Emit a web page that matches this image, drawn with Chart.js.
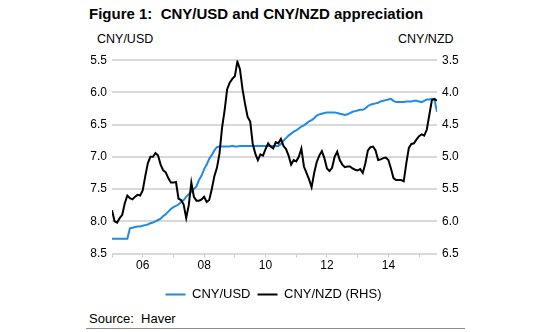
<!DOCTYPE html>
<html>
<head>
<meta charset="utf-8">
<script src="https://cdn.jsdelivr.net/npm/chart.js@4.4.1/dist/chart.umd.min.js"></script>
<style>
  body { margin:0; width:550px; height:332px; background:#fff; position:relative; overflow:hidden;
         font-family:"Liberation Sans", Arial, sans-serif; }
  .txt { position:absolute; white-space:pre; color:#000; line-height:1; }
  #wrap { position:absolute; left:0; top:48px; }
</style>
</head>
<body>
<div class="txt" style="left:89px;top:6px;font-size:15px;font-weight:bold">Figure 1:  CNY/USD and CNY/NZD appreciation</div>
<div class="txt" style="left:97px;top:33px;font-size:12.5px">CNY/USD</div>
<div class="txt" style="left:398px;top:33px;font-size:12.5px">CNY/NZD</div>
<div id="wrap"><canvas id="grafico" width="547" height="263"></canvas></div>
<div class="txt" style="left:89px;top:312px;font-size:13px">Source:  Haver</div>
<div style="position:absolute;left:86px;top:328px;width:379px;height:1px;background:#8c8c8c"></div>

<script>
// monthly, Jan 2005 .. Aug 2015
const anoInicial = 2005;

// CNY/USD (left axis)
const cnyUsd = [
  8.27, 8.27, 8.27, 8.27, 8.27, 8.27, 8.27, 8.11, 8.10, 8.09, 8.08, 8.08,
  8.07, 8.06, 8.05, 8.03, 8.02, 8.00, 7.98, 7.96, 7.92, 7.89, 7.85, 7.81,
  7.78, 7.76, 7.74, 7.70, 7.67, 7.62, 7.58, 7.54, 7.50, 7.46, 7.36, 7.29,
  7.19, 7.12, 7.03, 6.97, 6.90, 6.85, 6.84, 6.84, 6.84, 6.84, 6.84, 6.83,
  6.84, 6.84, 6.83, 6.83, 6.83, 6.83, 6.83, 6.83, 6.83, 6.83, 6.83, 6.83,
  6.83, 6.83, 6.83, 6.83, 6.83, 6.83, 6.80, 6.75, 6.71, 6.67, 6.64, 6.61,
  6.59, 6.56, 6.53, 6.51, 6.48, 6.45, 6.43, 6.40, 6.36, 6.34, 6.33, 6.32,
  6.31, 6.31, 6.31, 6.31, 6.32, 6.33, 6.34, 6.35, 6.34, 6.32, 6.30, 6.29,
  6.28, 6.27, 6.27, 6.25, 6.21, 6.19, 6.18, 6.17, 6.16, 6.14, 6.13, 6.12,
  6.11, 6.10, 6.13, 6.15, 6.15, 6.15, 6.15, 6.14, 6.14, 6.14, 6.13, 6.13,
  6.14, 6.15, 6.13, 6.11, 6.11, 6.10, 6.11, 6.30
];

// CNY/NZD (right axis)
const cnyNzd = [
  5.83, 6.00, 6.02, 5.95, 5.90, 5.72, 5.60, 5.64, 5.66, 5.62, 5.59, 5.60,
  5.52, 5.30, 5.10, 5.00, 5.00, 4.94, 4.98, 5.12, 5.21, 5.24, 5.33, 5.40,
  5.40, 5.39, 5.65, 5.67, 5.74, 5.95, 5.75, 5.40, 5.62, 5.68, 5.68, 5.66,
  5.62, 5.70, 5.67, 5.50, 5.30, 5.17, 4.95, 4.55, 4.28, 3.95, 3.85, 3.79,
  3.75, 3.52, 3.64, 3.95, 4.18, 4.38, 4.45, 4.80, 4.95, 5.05, 4.96, 4.98,
  4.88, 4.79, 4.84, 4.87, 4.77, 4.79, 4.72, 4.83, 4.88, 4.98, 5.12, 5.05,
  5.07, 5.00, 4.87, 5.15, 5.25, 5.35, 5.47, 5.25, 5.08, 4.98, 4.91, 5.02,
  5.18, 5.22, 5.17, 5.00, 4.92, 5.05, 5.12, 5.16, 5.15, 5.15, 5.18, 5.20,
  5.21, 5.19, 5.25, 5.10, 4.90, 4.85, 4.84, 4.90, 5.05, 5.04, 5.02, 5.01,
  5.05, 5.18, 5.33, 5.36, 5.36, 5.36, 5.38, 5.10, 4.86, 4.80, 4.79, 4.73,
  4.68, 4.65, 4.67, 4.58, 4.35, 4.12, 4.10, 4.13
];

const anosTicks = [2005, 2006, 2007, 2008, 2009, 2010, 2011, 2012, 2013, 2014, 2015];
const azul = '#1f8be3';

const pontos = arr => arr.map((v, i) => ({ x: anoInicial + i / 12, y: v }));
const corTexto = '#000';

Chart.defaults.font.family = '"Liberation Sans", Arial, sans-serif';

new Chart(document.getElementById('grafico'), {
  type: 'line',
  data: {
    datasets: [
      { label: 'CNY/USD', data: pontos(cnyUsd), borderColor: azul, backgroundColor: azul,
        borderWidth: 2, pointRadius: 0, tension: 0, yAxisID: 'y', order: 1 },
      { label: 'CNY/NZD (RHS)', data: pontos(cnyNzd), borderColor: '#000', backgroundColor: '#000',
        borderWidth: 2, pointRadius: 0, tension: 0, yAxisID: 'y2', order: 0 }
    ]
  },
  options: {
    responsive: false,
    animation: false,
    layout: { padding: { top: 9.3, bottom: 0, left: 0, right: 0 } },
    plugins: {
      legend: {
        position: 'bottom',
        labels: {
          usePointStyle: true, pointStyle: 'line', pointStyleWidth: 20,
          padding: 7, color: corTexto, font: { size: 13 },
          sort: (a, b) => a.datasetIndex - b.datasetIndex
        }
      },
      tooltip: { enabled: false }
    },
    scales: {
      x: {
        type: 'linear',
        min: anoInicial,
        max: anoInicial + (cnyUsd.length - 1) / 12,
        afterBuildTicks: s => { s.ticks = anosTicks.map(v => ({ value: v })); },
        afterFit: s => { s.height = 27.5; },
        grid: { drawOnChartArea: false, drawTicks: true, tickLength: 4, color: '#c8c8c8', lineWidth: 1 },
        border: { display: false },
        ticks: {
          padding: 1, color: corTexto, font: { size: 12 }, autoSkip: false, maxRotation: 0,
          callback: v => (v % 2 === 0 ? String(v).slice(2) : '')
        }
      },
      y: {
        position: 'left', reverse: true, min: 5.5, max: 8.5,
        afterFit: s => { s.width = 112; },
        ticks: { stepSize: 0.5, padding: 5, color: corTexto, font: { size: 12 }, callback: v => v.toFixed(1) },
        grid: { color: '#d9d9d9', lineWidth: 2, drawTicks: false },
        border: { display: false }
      },
      y2: {
        position: 'right', reverse: true, min: 3.5, max: 6.5,
        afterFit: s => { s.width = 110; },
        ticks: { stepSize: 0.5, padding: 5, color: corTexto, font: { size: 12 }, callback: v => v.toFixed(1) },
        grid: { display: false, drawTicks: false },
        border: { display: false }
      }
    }
  }
});
</script>
</body>
</html>
